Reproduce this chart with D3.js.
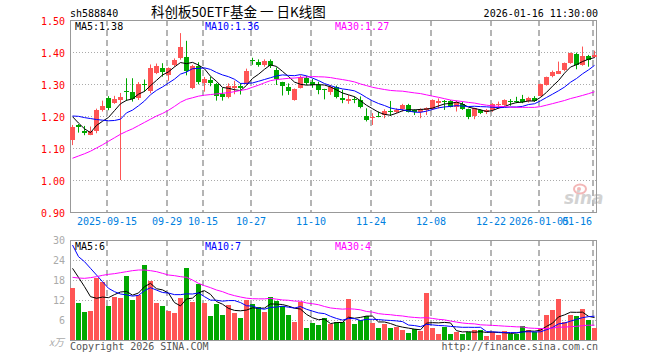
<!DOCTYPE html>
<meta charset="utf-8">
<style>
  body { margin: 0; background: #fff; }
  text { font-family: "DejaVu Sans Mono", "Liberation Mono", monospace; font-size: 10px; }
</style>
<body>
  <div id="kline"></div>
  <script src="https://d3js.org/d3.v7.min.js"></script>
  <script>
    // trading days shown on the chart
    var dates = [
      "2025-09-05", "2025-09-08", "2025-09-09", "2025-09-10", "2025-09-11", "2025-09-12", "2025-09-15", "2025-09-16",
      "2025-09-17", "2025-09-18", "2025-09-19", "2025-09-22", "2025-09-23", "2025-09-24", "2025-09-25", "2025-09-26",
      "2025-09-29", "2025-09-30", "2025-10-09", "2025-10-10", "2025-10-13", "2025-10-14", "2025-10-15", "2025-10-16",
      "2025-10-17", "2025-10-20", "2025-10-21", "2025-10-22", "2025-10-23", "2025-10-24", "2025-10-27", "2025-10-28",
      "2025-10-29", "2025-10-30", "2025-10-31", "2025-11-03", "2025-11-04", "2025-11-05", "2025-11-06", "2025-11-07",
      "2025-11-10", "2025-11-11", "2025-11-12", "2025-11-13", "2025-11-14", "2025-11-17", "2025-11-18", "2025-11-19",
      "2025-11-20", "2025-11-21", "2025-11-24", "2025-11-25", "2025-11-26", "2025-11-27", "2025-11-28", "2025-12-01",
      "2025-12-02", "2025-12-03", "2025-12-04", "2025-12-05", "2025-12-08", "2025-12-09", "2025-12-10", "2025-12-11",
      "2025-12-12", "2025-12-15", "2025-12-16", "2025-12-17", "2025-12-18", "2025-12-19", "2025-12-22", "2025-12-23",
      "2025-12-24", "2025-12-25", "2025-12-26", "2025-12-29", "2025-12-30", "2025-12-31", "2026-01-05", "2026-01-06",
      "2026-01-07", "2026-01-08", "2026-01-09", "2026-01-12", "2026-01-13", "2026-01-14", "2026-01-15", "2026-01-16"
    ];

    var opens = [
      1.125, 1.172, 1.153, 1.141, 1.153, 1.219, 1.257, 1.243, 1.251, 1.278,
      1.275, 1.255, 1.301, 1.276, 1.335, 1.349, 1.326, 1.360, 1.383, 1.385,
      1.287, 1.357, 1.302, 1.311, 1.300, 1.269, 1.261, 1.289, 1.294, 1.300,
      1.374, 1.368, 1.358, 1.371, 1.345, 1.307, 1.291, 1.250, 1.288, 1.319,
      1.307, 1.297, 1.283, 1.275, 1.290, 1.256, 1.248, 1.252, 1.250, 1.200,
      1.192, 1.201, 1.203, 1.217, 1.214, 1.221, 1.235, 1.219, 1.211, 1.219,
      1.221, 1.242, 1.248, 1.247, 1.229, 1.238, 1.223, 1.200, 1.219, 1.211,
      1.216, 1.233, 1.235, 1.247, 1.248, 1.252, 1.245, 1.257, 1.263, 1.297,
      1.326, 1.334, 1.342, 1.365, 1.393, 1.360, 1.389, 1.384
    ];
    var highs = [
      1.172, 1.175, 1.169, 1.167, 1.223, 1.248, 1.262, 1.263, 1.272, 1.318,
      1.318, 1.306, 1.314, 1.361, 1.364, 1.365, 1.352, 1.380, 1.459, 1.435,
      1.360, 1.368, 1.322, 1.323, 1.303, 1.288, 1.302, 1.310, 1.303, 1.348,
      1.382, 1.377, 1.377, 1.377, 1.352, 1.307, 1.302, 1.286, 1.327, 1.325,
      1.316, 1.307, 1.285, 1.297, 1.295, 1.282, 1.266, 1.261, 1.261, 1.224,
      1.209, 1.214, 1.221, 1.247, 1.224, 1.238, 1.238, 1.221, 1.224, 1.227,
      1.252, 1.255, 1.250, 1.250, 1.248, 1.245, 1.223, 1.226, 1.221, 1.222,
      1.240, 1.245, 1.252, 1.253, 1.260, 1.266, 1.260, 1.262, 1.301, 1.323,
      1.342, 1.370, 1.367, 1.398, 1.398, 1.417, 1.391, 1.404
    ];
    var lows = [
      1.109, 1.148, 1.140, 1.140, 1.146, 1.214, 1.218, 1.238, 1.000, 1.247,
      1.245, 1.250, 1.276, 1.271, 1.331, 1.323, 1.310, 1.354, 1.376, 1.327,
      1.284, 1.299, 1.276, 1.293, 1.248, 1.248, 1.255, 1.268, 1.267, 1.297,
      1.360, 1.354, 1.354, 1.350, 1.297, 1.264, 1.266, 1.248, 1.286, 1.297,
      1.288, 1.268, 1.252, 1.266, 1.255, 1.240, 1.238, 1.240, 1.224, 1.183,
      1.172, 1.196, 1.193, 1.200, 1.209, 1.214, 1.211, 1.203, 1.193, 1.203,
      1.219, 1.224, 1.219, 1.227, 1.214, 1.219, 1.190, 1.190, 1.206, 1.206,
      1.213, 1.222, 1.232, 1.232, 1.240, 1.240, 1.242, 1.244, 1.261, 1.295,
      1.321, 1.331, 1.340, 1.363, 1.346, 1.357, 1.354, 1.381
    ];
    var closes = [
      1.167, 1.165, 1.148, 1.153, 1.220, 1.231, 1.226, 1.254, 1.260, 1.274,
      1.253, 1.300, 1.298, 1.349, 1.357, 1.337, 1.349, 1.375, 1.417, 1.340,
      1.357, 1.307, 1.316, 1.301, 1.261, 1.261, 1.294, 1.294, 1.287, 1.342,
      1.370, 1.359, 1.372, 1.356, 1.317, 1.293, 1.279, 1.285, 1.321, 1.304,
      1.299, 1.281, 1.279, 1.291, 1.258, 1.250, 1.253, 1.250, 1.227, 1.188,
      1.196, 1.198, 1.216, 1.214, 1.219, 1.235, 1.214, 1.214, 1.221, 1.224,
      1.250, 1.248, 1.245, 1.229, 1.245, 1.221, 1.198, 1.224, 1.209, 1.218,
      1.236, 1.236, 1.250, 1.244, 1.244, 1.242, 1.255, 1.249, 1.300, 1.323,
      1.339, 1.342, 1.365, 1.396, 1.360, 1.388, 1.378, 1.391
    ];
    // volume, in 万
    var volumes = [
      15.7, 11.2, 8.4, 8.8, 18.5, 17.5, 10.3, 13.0, 12.7, 19.3,
      12.0, 13.5, 22.5, 17.7, 11.2, 10.3, 8.7, 8.2, 12.7, 21.7,
      11.5, 16.8, 11.2, 7.3, 10.9, 7.5, 10.5, 8.2, 6.7, 12.0,
      10.8, 9.9, 8.5, 12.9, 11.7, 10.2, 7.5, 5.5, 11.5, 3.7,
      5.2, 4.5, 6.5, 4.7, 5.3, 5.3, 12.4, 4.9, 6.0, 7.3,
      5.2, 3.7, 4.8, 3.7, 4.0, 3.1, 2.2, 3.3, 2.7, 14.1,
      3.7, 1.9, 4.0, 1.9, 2.5, 1.8, 2.3, 3.0, 3.0, 1.2,
      2.5, 1.5, 2.7, 1.9, 1.9, 4.2, 2.9, 2.3, 3.5, 7.5,
      9.0, 12.3, 5.4, 7.5, 7.3, 9.3, 6.0, 3.6
    ];

    // moving average values for the first days,
    // where the window reaches back before the first candle
    var priceMa5Start = [1.198, 1.178, 1.160, 1.148];
    var priceMa10Start = [1.200, 1.199, 1.195, 1.192, 1.189, 1.187, 1.185, 1.186, 1.190];
    var priceMa30Start = [
      1.068, 1.075, 1.082, 1.090, 1.100, 1.110, 1.121, 1.132, 1.143, 1.152,
      1.160, 1.170, 1.180, 1.190, 1.200, 1.208, 1.218, 1.230, 1.243, 1.252,
      1.257, 1.262, 1.265, 1.267, 1.269, 1.271, 1.273, 1.276, 1.280
    ];
    var volMa5Start = [21.5, 18.8, 16.0, 13.0];
    var volMa10Start = [28.5, 25.0, 23.5, 21.5, 19.5, 17.5, 15.5, 14.5, 13.8];
    var volMa30Start = [
      18.8, 18.6, 18.5, 18.7, 19.0, 19.4, 19.7, 19.9, 20.2, 20.5,
      20.8, 21.0, 21.0, 20.8, 20.5, 20.0, 19.5, 19.3, 19.0, 18.8,
      18.0, 17.0, 16.3, 15.7, 15.0, 14.5, 13.8, 13.3, 12.9
    ];

    var priceTicks = [1.50, 1.40, 1.30, 1.20, 1.10, 1.00, 0.90];
    var volTicks = [30, 24, 18, 12, 6];
    var dateTicks = ["2025-09-15", "2025-09-29", "2025-10-15", "2025-10-27", "2025-11-10",
      "2025-11-24", "2025-12-08", "2025-12-22", "2026-01-05", "2026-01-16"];
    var dateTickLabels = ["2025-09-15", "09-29", "10-15", "10-27", "11-10",
      "11-24", "12-08", "12-22", "2026-01-05", "01-16"];

    var RED = "#ff5555",
      GREEN = "#00a800",
      GRID = "#aaaaaa";

    var left = 70,
      right = 597,
      priceTop = 20,
      priceBottom = 212,
      volTop = 240,
      volBottom = 340;

    function movingAvg(values, n, start) {
      return values.map(function(v, i) {
        if (i < n - 1) return start[i];
        return d3.mean(values.slice(i - n + 1, i + 1));
      });
    }

    var x = d3.scaleBand()
      .domain(dates)
      .range([69, 597]);

    function cx(d) {
      return x(d) + 3;
    }

    var y = d3.scaleLinear()
      .domain([0.90, 1.50])
      .range([priceBottom, priceTop]);

    var yv = d3.scaleLinear()
      .domain([0, 30])
      .range([volBottom, volTop]);

    var bars = dates.map(function(d, i) {
      return {
        date: d,
        open: opens[i],
        high: highs[i],
        low: lows[i],
        close: closes[i],
        vol: volumes[i]
      };
    });

    var svg = d3.select("#kline")
      .append("svg")
      .attr("width", 660)
      .attr("height", 360)
      .style("display", "block");

    svg.append("defs").append("clipPath")
      .attr("id", "clipPrice")
      .append("rect")
      .attr("x", left).attr("y", priceTop)
      .attr("width", right - left).attr("height", priceBottom - priceTop);
    svg.select("defs").append("clipPath")
      .attr("id", "clipVol")
      .append("rect")
      .attr("x", left).attr("y", volTop)
      .attr("width", right - left).attr("height", volBottom - volTop);

    // header
    svg.append("text")
      .attr("x", 70).attr("y", 16.5)
      .attr("fill", "#000")
      .text("sh588840");
    svg.append("text")
      .attr("x", 151).attr("y", 17)
      .attr("fill", "#000")
      .style("font-family", "'Noto Sans CJK SC', sans-serif")
      .style("font-size", "13.5px")
      .text("科创板50ETF基金 一 日K线图");
    svg.append("text")
      .attr("x", 598).attr("y", 16.5)
      .attr("text-anchor", "end")
      .attr("fill", "#000")
      .text("2026-01-16 11:30:00");

    // horizontal grid, price panel
    svg.append("g")
      .selectAll("line")
      .data(priceTicks.slice(1, -1))
      .enter().append("line")
      .attr("x1", left).attr("x2", right)
      .attr("y1", function(d) { return Math.round(y(d)) + 0.5; })
      .attr("y2", function(d) { return Math.round(y(d)) + 0.5; })
      .attr("stroke", GRID)
      .attr("stroke-dasharray", "1,2");

    // horizontal grid, volume panel
    svg.append("g")
      .selectAll("line")
      .data(volTicks.slice(1))
      .enter().append("line")
      .attr("x1", left).attr("x2", right)
      .attr("y1", function(d) { return Math.round(yv(d)) + 0.5; })
      .attr("y2", function(d) { return Math.round(yv(d)) + 0.5; })
      .attr("stroke", GRID)
      .attr("stroke-dasharray", "1,2");

    // vertical dashed grid, both panels
    var vgrid = svg.append("g");
    [[priceTop, priceBottom], [volTop, volBottom]].forEach(function(r) {
      vgrid.selectAll(null)
        .data(dateTicks)
        .enter().append("line")
        .attr("x1", function(d) { return cx(d) - 1; })
        .attr("x2", function(d) { return cx(d) - 1; })
        .attr("y1", r[0]).attr("y2", r[1])
        .attr("stroke", "#b4b4b4")
        .attr("stroke-width", 2)
        .attr("stroke-dasharray", "6,4");
    });

    // sina watermark
    var logo = svg.append("g").attr("opacity", 0.75);
    logo.append("ellipse")
      .attr("cx", 580).attr("cy", 189)
      .attr("rx", 6).attr("ry", 4.5)
      .attr("fill", "none")
      .attr("stroke", "#f0a0a0")
      .attr("stroke-width", 2);
    logo.append("circle")
      .attr("cx", 579).attr("cy", 189).attr("r", 2)
      .attr("fill", "#f0a0a0");
    logo.append("text")
      .attr("x", 564).attr("y", 204)
      .attr("fill", "#c4c4c4")
      .style("font-family", "'DejaVu Sans', sans-serif")
      .style("font-size", "17px")
      .style("font-style", "italic")
      .style("font-weight", "bold")
      .text("sina");

    // frames
    svg.append("rect")
      .attr("x", left + 0.5).attr("y", priceTop + 0.5)
      .attr("width", right - left - 1).attr("height", priceBottom - priceTop)
      .attr("fill", "none")
      .attr("stroke", "#999");
    svg.append("rect")
      .attr("x", left + 0.5).attr("y", volTop + 0.5)
      .attr("width", right - left - 1).attr("height", volBottom - volTop)
      .attr("fill", "none")
      .attr("stroke", "#999");

    // price axis labels
    svg.append("g")
      .selectAll("text")
      .data(priceTicks)
      .enter().append("text")
      .attr("x", 65)
      .attr("y", function(d) { return y(d) + 5; })
      .attr("text-anchor", "end")
      .attr("fill", "#ff0000")
      .text(function(d) { return d.toFixed(2); });

    // volume axis labels
    svg.append("g")
      .selectAll("text")
      .data(volTicks)
      .enter().append("text")
      .attr("x", 65)
      .attr("y", function(d) { return yv(d) + 4; })
      .attr("text-anchor", "end")
      .attr("fill", "#aaaaaa")
      .text(function(d) { return d; });
    svg.append("text")
      .attr("x", 49).attr("y", 346)
      .attr("fill", "#aaaaaa")
      .style("font-family", "'Noto Sans CJK SC', sans-serif")
      .style("font-style", "italic")
      .text("x万");

    // date labels
    svg.append("g")
      .selectAll("text")
      .data(dateTicks)
      .enter().append("text")
      .attr("y", 225)
      .attr("text-anchor", "middle")
      .attr("fill", "#0080e0")
      .text(function(d, i) { return dateTickLabels[i]; })
      .attr("x", function(d) {
        var half = this.getComputedTextLength() / 2;
        return Math.min(cx(d) - 1, 592 - half);
      });

    // candles
    var candles = svg.append("g")
      .attr("clip-path", "url(#clipPrice)")
      .selectAll("g")
      .data(bars)
      .enter().append("g");

    candles.append("line")
      .attr("x1", function(d) { return cx(d.date) + 0.5; })
      .attr("x2", function(d) { return cx(d.date) + 0.5; })
      .attr("y1", function(d) { return y(d.high); })
      .attr("y2", function(d) { return y(d.low); })
      .attr("stroke", function(d) { return d.close >= d.open ? RED : GREEN; });

    candles.append("rect")
      .attr("x", function(d) { return cx(d.date) - 2; })
      .attr("width", 5)
      .attr("y", function(d) { return Math.round(y(Math.max(d.open, d.close))); })
      .attr("height", function(d) {
        return Math.max(1, Math.round(Math.abs(y(d.open) - y(d.close))));
      })
      .attr("fill", function(d) { return d.close >= d.open ? RED : GREEN; });

    // volume bars
    svg.append("g")
      .attr("clip-path", "url(#clipVol)")
      .selectAll("rect")
      .data(bars)
      .enter().append("rect")
      .attr("x", function(d) { return cx(d.date) - 2; })
      .attr("width", 5)
      .attr("y", function(d) { return Math.round(yv(d.vol)); })
      .attr("height", function(d) { return volBottom - Math.round(yv(d.vol)); })
      .attr("fill", function(d) { return d.close >= d.open ? RED : GREEN; });

    // moving average lines
    var priceLine = d3.line()
      .x(function(d, i) { return cx(dates[i]) + 0.5; })
      .y(function(d) { return y(d); });
    var volLine = d3.line()
      .x(function(d, i) { return cx(dates[i]) + 0.5; })
      .y(function(d) { return yv(d); });

    var priceMas = [
      { vals: movingAvg(closes, 5, priceMa5Start), color: "#000000" },
      { vals: movingAvg(closes, 10, priceMa10Start), color: "#0000ff" },
      { vals: movingAvg(closes, 30, priceMa30Start), color: "#ff00ff" }
    ];
    var volMas = [
      { vals: movingAvg(volumes, 5, volMa5Start), color: "#000000" },
      { vals: movingAvg(volumes, 10, volMa10Start), color: "#0000ff" },
      { vals: movingAvg(volumes, 30, volMa30Start), color: "#ff00ff" }
    ];

    svg.append("g")
      .attr("clip-path", "url(#clipPrice)")
      .selectAll("path")
      .data(priceMas)
      .enter().append("path")
      .attr("d", function(d) { return priceLine(d.vals); })
      .attr("fill", "none")
      .attr("stroke", function(d) { return d.color; })
      .attr("stroke-width", 1);

    svg.append("g")
      .attr("clip-path", "url(#clipVol)")
      .selectAll("path")
      .data(volMas)
      .enter().append("path")
      .attr("d", function(d) { return volLine(d.vals); })
      .attr("fill", "none")
      .attr("stroke", function(d) { return d.color; })
      .attr("stroke-width", 1);

    // MA legends
    var legendX = [75, 205, 335];
    svg.append("g")
      .selectAll("text")
      .data(["MA5:1.38", "MA10:1.36", "MA30:1.27"])
      .enter().append("text")
      .attr("x", function(d, i) { return legendX[i]; })
      .attr("y", 30)
      .attr("fill", function(d, i) { return priceMas[i].color; })
      .text(function(d) { return d; });
    svg.append("g")
      .selectAll("text")
      .data(["MA5:6", "MA10:7", "MA30:4"])
      .enter().append("text")
      .attr("x", function(d, i) { return legendX[i]; })
      .attr("y", 250)
      .attr("fill", function(d, i) { return volMas[i].color; })
      .text(function(d) { return d; });

    // footer
    svg.append("text")
      .attr("x", 70).attr("y", 350)
      .attr("fill", "#555")
      .text("Copyright 2026 SINA.COM");
    svg.append("text")
      .attr("x", 598).attr("y", 350)
      .attr("text-anchor", "end")
      .attr("fill", "#555")
      .text("http://finance.sina.com.cn");
  </script>
</body>
